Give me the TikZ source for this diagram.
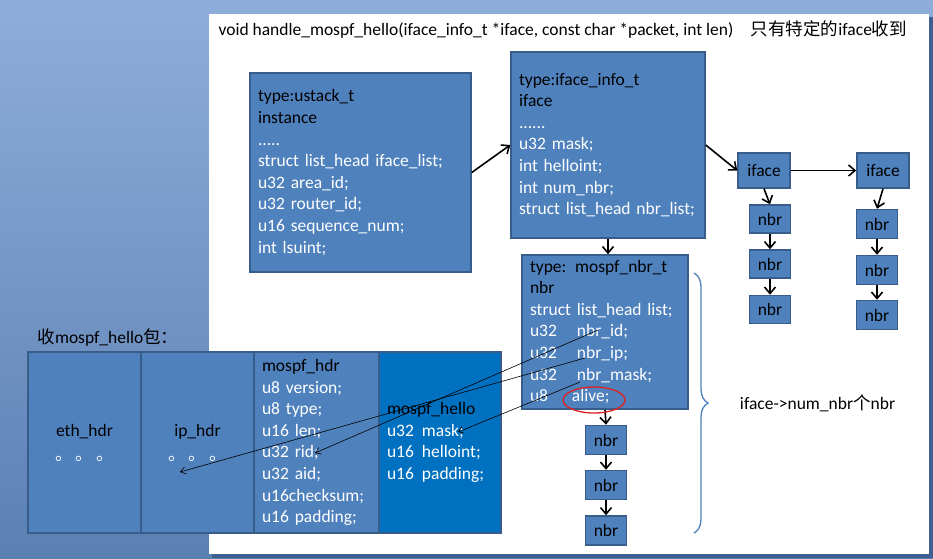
\documentclass[tikz,border=0pt]{standalone}
\usepackage{fontspec}
\setmainfont{Carlito}
\newfontfamily\cjk{Noto Sans CJK SC}
\usetikzlibrary{decorations.pathreplacing, arrows.meta}

\definecolor{boxblue}{HTML}{4F81BD}
\definecolor{boxline}{HTML}{385D8A}
\definecolor{helloblue}{HTML}{0070C0}
\definecolor{bgtop}{HTML}{8FADDB}
\definecolor{bgbot}{HTML}{5A80B2}
\definecolor{shadowblue}{HTML}{3E5F8F}
\definecolor{alivered}{HTML}{E02020}

\tikzset{
  blk/.style={draw=boxline, line width=1.5pt, fill=boxblue, text=white, align=left,
    inner xsep=8pt, inner ysep=0pt, font=\fontsize{17.5}{21.6}\selectfont},
  cell/.style={blk, minimum height=181pt, text width=#1},
  small/.style={draw=boxline, line width=1.5pt, fill=boxblue, inner sep=0pt,
    font=\fontsize{17.5}{20}\selectfont},
  lbl/.style={font=\fontsize{17.5}{20}\selectfont},
  arr/.style={-{Straight Barb[length=6.5pt,width=11pt]}, line width=1.6pt},
  ptr/.style={-{Straight Barb[length=5pt,width=7pt]}, line width=0.6pt},
}
\newcommand{\tabcol}[2]{\makebox[#1][l]{#2}}

\begin{document}
\begin{tikzpicture}[x=1pt, y=-1pt]
    \useasboundingbox (0,0) rectangle (933,558);
    \shade[top color=bgtop, bottom color=bgbot] (0,0) rectangle (933,558);
    \fill[shadowblue] (212,17) rectangle (933,558);
    \fill[white] (209,14) rectangle (929,554);

    \node[lbl, anchor=west] (title) at (215,29)
        {void handle\_mospf\_hello(iface\_info\_t *iface, const char *packet, int len)\quad{\cjk 只有特定的}iface{\cjk 收到}};

    \node[blk, text width=205pt, minimum height=199pt] (0) at (360.5,172.5)
        {\textcolor{black}{type:ustack\_t}\\ \textcolor{black}{instance}\\ .....\\ struct list\_head iface\_list;\\
         u32 area\_id;\\ u32 router\_id;\\ u16 sequence\_num;\\ int lsuint;};
    \node[blk, text width=178pt, minimum height=186pt] (1) at (608,145)
        {\textcolor{black}{type:iface\_info\_t}\\ \textcolor{black}{iface}\\ ......\\ u32 mask;\\ int helloint;\\
         int num\_nbr;\\ struct list\_head nbr\_list;};
    \node[blk, text width=150pt, minimum height=154pt] (2) at (605,332)
        {\textcolor{black}{type: mospf\_nbr\_t}\\ \textcolor{black}{nbr}\\ struct list\_head list;\\
         \tabcol{47pt}{u32}nbr\_id;\\ \tabcol{47pt}{u32}nbr\_ip;\\ \tabcol{47pt}{u32}nbr\_mask;\\ \tabcol{42pt}{u8}alive;};

    \node[small, minimum width=52pt, minimum height=35pt] (7) at (764,170.5) {iface};
    \node[small, minimum width=41pt, minimum height=28pt] (8) at (770,219) {nbr};
    \node[small, minimum width=41pt, minimum height=28pt] (9) at (770,264) {nbr};
    \node[small, minimum width=41pt, minimum height=28pt] (10) at (770,309.5) {nbr};
    \node[small, minimum width=52pt, minimum height=35pt] (11) at (883,170.5) {iface};
    \node[small, minimum width=41pt, minimum height=29pt] (12) at (877,224) {nbr};
    \node[small, minimum width=41pt, minimum height=29pt] (13) at (877,270) {nbr};
    \node[small, minimum width=41pt, minimum height=29pt] (14) at (877,315) {nbr};
    \node[small, minimum width=41pt, minimum height=29pt] (15) at (606,440) {nbr};
    \node[small, minimum width=41pt, minimum height=29pt] (16) at (606,485) {nbr};
    \node[small, minimum width=41pt, minimum height=29pt] (17) at (606,530.5) {nbr};

    \node[lbl, anchor=west] (pkt) at (34,338)
        {{\cjk 收}mospf\_hello{\cjk 包：}};
    \node[cell=97pt, align=center, font=\fontsize{17.5}{24}\selectfont] (3) at (84.5,442.5)
        {\textcolor{black}{eth\_hdr}\\ {\cjk 。\kern3pt。\kern3pt。}};
    \node[cell=97pt, align=center, font=\fontsize{17.5}{24}\selectfont] (4) at (197.5,442.5)
        {\textcolor{black}{ip\_hdr}\\ {\cjk 。\kern3pt。\kern3pt。}};
    \node[cell=109pt] (5) at (316.5,442.5)
        {\textcolor{black}{mospf\_hdr}\\ u8 version;\\ u8 type;\\ u16 len;\\ u32 rid;\\ u32 aid;\\ u16checksum;\\ u16 padding;};
    \node[cell=106pt, fill=helloblue] (6) at (440,442.5)
        {\textcolor{black}{mospf\_hello}\\ \tabcol{35pt}{u32}mask;\\ \tabcol{35pt}{u16}helloint;\\ \tabcol{35pt}{u16}padding;};

    \draw[arr] (0.east) -- (1.west);
    \draw[arr] (1.east) -- (7.west);
    \draw[arr] (7.east) -- (11.west);
    \draw[arr] (1.south) -- (1.south |- 2.north);
    \draw[arr] (7.south) -- (8.north);
    \draw[arr] (8.south) -- (9.north);
    \draw[arr] (9.south) -- (10.north);
    \draw[arr] (11.south) -- (12.north);
    \draw[arr] (12.south) -- (13.north);
    \draw[arr] (13.south) -- (14.north);
    \draw[arr] (2.south) -- (15.north);
    \draw[arr] (15.south) -- (16.north);
    \draw[arr] (16.south) -- (17.north);

    \draw[alivered, line width=1.3pt] (594,400) ellipse [x radius=31pt, y radius=13pt];

    \coordinate (id) at (598,330);
    \coordinate (ip) at (585,358);
    \coordinate (mask) at (580,382);
    \coordinate (rid) at (315,453);
    \coordinate (dots) at (180,472);
    \coordinate (hmask) at (458,432);
    \draw[ptr] (id) -- (rid);
    \draw[ptr] (ip) -- (dots);
    \draw[ptr] (mask) -- (hmask);

    \draw[boxblue, line width=1.3pt, decorate, decoration={brace, amplitude=14pt}]
    (694,273) -- (694,533) node[lbl, midway, right=42pt, black] (cnt)
        {iface->num\_nbr{\cjk 个}nbr};
\end{tikzpicture}
\end{document}
